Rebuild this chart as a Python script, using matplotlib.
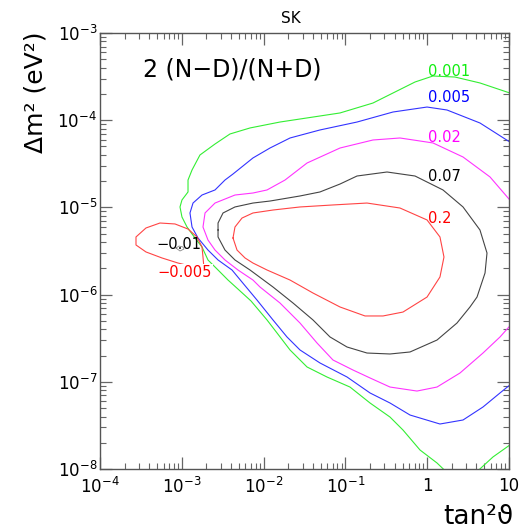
import numpy as np
import matplotlib
matplotlib.use("Agg")
from matplotlib import pyplot as plt
from matplotlib.ticker import LogLocator, NullFormatter

# contour lines as log10(tan^2 theta), log10(dm^2)
green_lx = [0.23, 0.120, -0.088, -0.296, -0.455, -0.699, -0.944, -1.225, -1.469, -1.677,
            -1.836, -1.958, -2.154, -2.301, -2.435, -2.557, -2.680, -2.753, -2.839, -2.936,
            -2.998, -3.022, -2.998, -2.924, -2.924, -2.875, -2.778, -2.594, -2.411, -2.166,
            -1.800, -1.066, -0.663, -0.418, -0.149, 0.071, 0.340, 0.645, 1.01]
green_ly = [-8.03, -7.931, -7.782, -7.553, -7.404, -7.243, -7.060, -6.945, -6.830, -6.635,
            -6.440, -6.291, -6.073, -5.947, -5.833, -5.718, -5.603, -5.454, -5.351, -5.225,
            -5.110, -4.995, -4.915, -4.823, -4.686, -4.571, -4.399, -4.273, -4.158, -4.089,
            -4.021, -3.917, -3.803, -3.688, -3.562, -3.493, -3.505, -3.573, -3.688]
green2_lx = [0.609, 0.804, 1.01]
green2_ly = [-8.03, -7.862, -7.725]

blue_lx = [1.01, 0.890, 0.682, 0.438, 0.156, -0.210, -0.455, -0.699, -0.980, -1.311,
           -1.555, -1.714, -1.885, -2.081, -2.264, -2.386, -2.557, -2.680, -2.802, -2.875,
           -2.900, -2.863, -2.753, -2.594, -2.472, -2.374, -2.130, -1.922, -1.677, -1.311,
           -0.858, -0.418, -0.002, 0.242, 0.645, 1.01]
blue_ly = [-7.037, -7.128, -7.289, -7.438, -7.484, -7.381, -7.243, -7.128, -6.945, -6.784,
           -6.635, -6.486, -6.291, -6.062, -5.856, -5.718, -5.603, -5.489, -5.351, -5.225,
           -5.064, -4.950, -4.858, -4.800, -4.686, -4.617, -4.433, -4.319, -4.204, -4.112,
           -4.021, -3.906, -3.849, -3.883, -4.032, -4.250]

magenta_lx = [1.01, 0.890, 0.682, 0.401, 0.120, -0.125, -0.455, -0.699, -0.907, -1.152,
              -1.347, -1.555, -1.800, -2.044, -2.130, -2.313, -2.472, -2.594, -2.680, -2.741,
              -2.716, -2.594, -2.350, -2.130, -1.958, -1.738, -1.469, -1.066, -0.663, -0.333,
              0.071, 0.438, 0.768, 1.01]
magenta_ly = [-6.360, -6.486, -6.670, -6.899, -7.060, -7.106, -7.060, -6.956, -6.865, -6.750,
              -6.555, -6.326, -6.096, -5.913, -5.833, -5.718, -5.603, -5.489, -5.374, -5.225,
              -5.064, -4.950, -4.858, -4.835, -4.800, -4.686, -4.491, -4.319, -4.227, -4.204,
              -4.261, -4.422, -4.651, -4.915]

black_lx = [-2.557, -2.557, -2.496, -2.350, -2.130, -1.922, -1.555, -1.311, -1.066, -0.858,
            -0.491, -0.149, 0.193, 0.438, 0.645, 0.731, 0.707, 0.609, 0.523, 0.364,
            0.120, -0.210, -0.455, -0.736, -0.980, -1.188, -1.396, -1.641, -1.885, -2.166,
            -2.350, -2.472, -2.557, -2.557]
black_ly = [-5.259, -5.179, -5.064, -4.995, -4.950, -4.927, -4.869, -4.823, -4.732, -4.640,
            -4.594, -4.640, -4.800, -4.995, -5.259, -5.523, -5.752, -6.028, -6.142, -6.326,
            -6.521, -6.658, -6.681, -6.670, -6.601, -6.486, -6.291, -6.096, -5.913, -5.718,
            -5.603, -5.489, -5.339, -5.259]

red_lx = [-2.374, -2.350, -2.264, -2.130, -1.885, -1.555, -1.152, -0.736, -0.333, -0.002,
          0.156, 0.205, 0.156, -0.002, -0.296, -0.540, -0.760, -1.066, -1.396, -1.677,
          -1.958, -2.130, -2.227, -2.325, -2.374]
red_ly = [-5.351, -5.225, -5.122, -5.064, -5.030, -4.995, -4.972, -4.950, -5.007, -5.144,
          -5.339, -5.569, -5.798, -6.028, -6.200, -6.245, -6.245, -6.142, -5.982, -5.833,
          -5.718, -5.638, -5.580, -5.489, -5.351]

neg005_lx = [-2.729, -2.741, -2.753, -2.814, -2.924, -3.083, -3.267, -3.438, -3.560, -3.560,
             -3.438, -3.242, -3.046, -2.851, -2.729]
neg005_ly = [-5.695, -5.569, -5.454, -5.339, -5.248, -5.190, -5.179, -5.236, -5.339, -5.431,
             -5.511, -5.580, -5.638, -5.683, -5.695]

neg01_lx = [-3.071, -3.034, -2.985, -2.973, -3.022, -3.071]
neg01_ly = [-5.466, -5.443, -5.454, -5.477, -5.500, -5.466]

levels = ["0.001", "0.005", "0.02", "0.07", "0.2"]
level_ly = [-3.436, -3.734, -4.193, -4.640, -5.133]
line_colors = ["#33ee33", "#3333ff", "#ff33ff", "#444444", "#ff4444"]
text_colors = ["#11ee11", "#0000ff", "#ff00ff", "#000000", "#ff0000"]

xticks = [1e-4, 1e-3, 1e-2, 1e-1, 1, 10]
xticklabels = [r"$10^{-4}$", r"$10^{-3}$", r"$10^{-2}$", r"$10^{-1}$", "1", "10"]
yticks = [1e-8, 1e-7, 1e-6, 1e-5, 1e-4, 1e-3]
yticklabels = [r"$10^{-8}$", r"$10^{-7}$", r"$10^{-6}$", r"$10^{-5}$", r"$10^{-4}$", r"$10^{-3}$"]


def pw(a):
    return 10.0 ** np.array(a)


fig = plt.figure(figsize=(5.32, 5.32), dpi=100)
ax = fig.add_axes([100 / 532, 1 - 469 / 532, 409 / 532, 436 / 532])
ax.set_xscale("log")
ax.set_yscale("log")
ax.set_xlim(1e-4, 10)
ax.set_ylim(1e-8, 1e-3)

lw = 0.8
ax.plot(pw(green_lx), pw(green_ly), color=line_colors[0], lw=lw)
ax.plot(pw(green2_lx), pw(green2_ly), color=line_colors[0], lw=lw)
ax.plot(pw(blue_lx), pw(blue_ly), color=line_colors[1], lw=lw)
ax.plot(pw(magenta_lx), pw(magenta_ly), color=line_colors[2], lw=lw)
ax.plot(pw(black_lx), pw(black_ly), color=line_colors[3], lw=lw)
ax.plot(pw(red_lx), pw(red_ly), color=line_colors[4], lw=lw)
ax.plot(pw(neg005_lx), pw(neg005_ly), color=line_colors[4], lw=lw)
ax.plot(pw(neg01_lx), pw(neg01_ly), color="#888888", lw=0.6)

for lab, ly, c in zip(levels, level_ly, text_colors):
    ax.text(10 ** 0.01, 10 ** ly, lab, color=c, fontsize=10.5, ha="left", va="center")
ax.text(10 ** -3.034, 10 ** -5.431, "\u22120.01", color="black", fontsize=10.5,
        ha="center", va="center")
ax.text(10 ** -2.961, 10 ** -5.741, "\u22120.005", color="#ff0000", fontsize=10.5,
        ha="center", va="center",
        bbox=dict(facecolor="white", edgecolor="none", pad=0.3))

ax.set_xticks(xticks)
ax.set_xticklabels(xticklabels)
ax.set_yticks(yticks)
ax.set_yticklabels(yticklabels)
ax.xaxis.set_minor_locator(LogLocator(base=10, subs=np.arange(2, 10), numticks=20))
ax.yaxis.set_minor_locator(LogLocator(base=10, subs=np.arange(2, 10), numticks=20))
ax.xaxis.set_minor_formatter(NullFormatter())
ax.yaxis.set_minor_formatter(NullFormatter())
ax.tick_params(which="both", direction="in", top=True, right=True, color="#666666",
               labelsize=12)
ax.tick_params(which="major", length=8.5, width=0.9)
ax.tick_params(which="minor", length=4.3, width=0.8)
ax.tick_params(axis="x", pad=6)
ax.tick_params(axis="y", pad=2)
for s in ax.spines.values():
    s.set_color("#555555")
    s.set_linewidth(1.0)

fig.text(291 / 532, 1 - 18.5 / 532, "SK", fontsize=11, ha="center", va="center")
fig.text(143 / 532, 1 - 70 / 532, "2 (N\u2212D)/(N+D)", fontsize=17, ha="left", va="center")
fig.text(36 / 532, 1 - 92 / 532, "\u0394m\u00b2 (eV\u00b2)", fontsize=18, rotation=90,
         ha="center", va="center")
fig.text(478 / 532, 1 - 517 / 532, "tan\u00b2\u03d1", fontsize=19, ha="center", va="center")

fig.savefig("out.png", dpi=100)
